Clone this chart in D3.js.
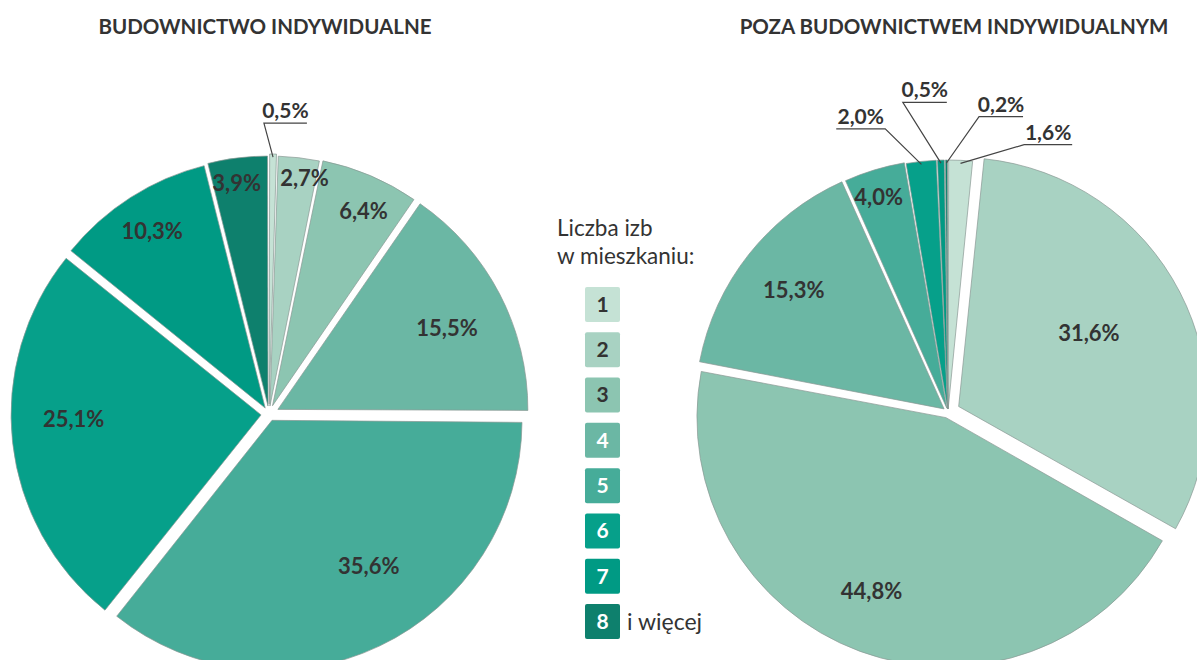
<!DOCTYPE html>
<html lang="pl">
<head>
<meta charset="utf-8">
<script src="https://cdn.jsdelivr.net/npm/d3@7"></script>
<style>
  html, body { margin: 0; padding: 0; background: #fff; }
  svg { display: block; font-family: Lato, "Open Sans", sans-serif; }
</style>
</head>
<body>
<svg id="chart"></svg>
<script>
// Liczba izb w mieszkaniu
const rooms = ["1", "2", "3", "4", "5", "6", "7", "8"];
const roomsSuffix = ["", "", "", "", "", "", "", "i więcej"];

// udział (%) mieszkań wg liczby izb
const individual = [0.5, 2.7, 6.4, 15.5, 35.6, 25.1, 10.3, 3.9];
const nonIndividual = [1.6, 31.6, 44.8, 15.3, 4.0, 2.0, 0.5, 0.2];

const titleLeft = "BUDOWNICTWO INDYWIDUALNE";
const titleRight = "POZA BUDOWNICTWEM INDYWIDUALNYM";
const legendTitle = ["Liczba izb", "w mieszkaniu:"];

const COLORS = [
  "#c5e2d5",
  "#a8d2c2",
  "#8cc5b1",
  "#6bb7a4",
  "#46ac99",
  "#06a08a",
  "#009a84",
  "#0e806d",
];
const TEXT = "#333333";

const W = 1197;
const H = 660;

const svg = d3.select("#chart").attr("width", W).attr("height", H);

const fmtPct = (v) => d3.format(".1f")(v).replace(".", ",") + "%";

/**
 * Exploded pie with inside labels and optional callouts for tiny slices.
 */
function renderPie(values, opts) {
  const { cx, cy, r, explode, labelR, labelShift, callouts, title, titleX } =
    opts;

  svg
    .append("text")
    .attr("x", titleX)
    .attr("y", 34)
    .attr("text-anchor", "middle")
    .attr("fill", TEXT)
    .attr("font-size", 20.5)
    .attr("font-weight", 700)
    .text(title);

  const pie = d3.pie().sort(null).value((d) => d);
  const arcs = pie(values);
  const arc = d3.arc().innerRadius(0).outerRadius(r).padAngle(0.004);

  const g = svg.append("g").attr("transform", `translate(${cx},${cy})`);

  const offset = (a, i) => {
    const m = (a.startAngle + a.endAngle) / 2;
    return [Math.sin(m) * explode[i], -Math.cos(m) * explode[i]];
  };

  arcs.forEach((a, i) => {
    const [ox, oy] = offset(a, i);
    g.append("path")
      .attr("d", arc(a))
      .attr("transform", `translate(${ox},${oy})`)
      .attr("fill", COLORS[i])
      .attr("stroke", "#8a9893")
      .attr("stroke-width", 0.7);
  });

  // labels inside slices
  arcs.forEach((a, i) => {
    if (labelR[i] == null) return;
    const [ox, oy] = offset(a, i);
    const m = (a.startAngle + a.endAngle) / 2 + (labelShift[i] * Math.PI) / 180;
    const lr = labelR[i] * r;
    g.append("text")
      .attr("x", ox + Math.sin(m) * lr)
      .attr("y", oy - Math.cos(m) * lr)
      .attr("dy", "0.35em")
      .attr("text-anchor", "middle")
      .attr("fill", TEXT)
      .attr("font-size", 22)
      .attr("font-weight", 700)
      .text(fmtPct(a.data));
  });

  // callouts for tiny slices
  callouts.forEach((c) => {
    const a = arcs[c.i];
    const [ox, oy] = offset(a, c.i);
    const m = (a.startAngle + a.endAngle) / 2;
    const p0 = [ox + Math.sin(m) * (r - 3), oy - Math.cos(m) * (r - 3)];
    const ea = (c.angle * Math.PI) / 180;
    const p1 = [Math.sin(ea) * c.dist, -Math.cos(ea) * c.dist];
    const p2 = [p1[0] + c.dir * c.len, p1[1]];
    g.append("path")
      .attr("d", d3.line()([p0, p1, p2]))
      .attr("fill", "none")
      .attr("stroke", "#444")
      .attr("stroke-width", 1.2);
    g.append("text")
      .attr("x", (p1[0] + p2[0]) / 2)
      .attr("y", p1[1] - 5)
      .attr("text-anchor", "middle")
      .attr("fill", TEXT)
      .attr("font-size", 21)
      .attr("font-weight", 700)
      .text(fmtPct(a.data));
  });
}

renderPie(individual, {
  cx: 269,
  cy: 414,
  r: 250,
  explode: [10, 8, 9, 10, 7, 8, 7, 8],
  labelR: [null, 0.92, 0.86, 0.75, 0.7, 0.75, 0.84, 0.9],
  labelShift: [0, 2, 2, 2, -8, 5, 0, -1],
  callouts: [{ i: 0, dist: 291, angle: -1, dir: 1, len: 43 }],
  title: titleLeft,
  titleX: 265,
});

renderPie(nonIndividual, {
  cx: 948,
  cy: 412,
  r: 249,
  explode: [3, 12, 6, 5, 4, 3, 3, 3],
  labelR: [null, 0.6, 0.76, 0.77, 0.89, null, null, null],
  labelShift: [0, -2, 3, 0, -1, 0, 0, 0],
  callouts: [
    { i: 5, dist: 290, angle: -12.5, dir: -1, len: 49 },
    { i: 6, dist: 313, angle: -8.3, dir: 1, len: 44 },
    { i: 7, dist: 297, angle: 6.0, dir: 1, len: 44 },
    { i: 0, dist: 278, angle: 15.9, dir: 1, len: 48 },
  ],
  title: titleRight,
  titleX: 954,
});

// Legend
const legend = svg.append("g").attr("transform", "translate(557,0)");
legendTitle.forEach((t, k) => {
  legend
    .append("text")
    .attr("x", 0)
    .attr("y", 236 + k * 28)
    .attr("fill", TEXT)
    .attr("font-size", 22.5)
    .text(t);
});

const ly = d3
  .scaleBand()
  .domain(rooms)
  .range([287, 287 + rooms.length * 44])
  .paddingInner(0.227);

rooms.forEach((k, i) => {
  const y = ly(k);
  const s = ly.bandwidth();
  legend
    .append("rect")
    .attr("x", 28)
    .attr("y", y)
    .attr("width", s)
    .attr("height", s)
    .attr("rx", 2)
    .attr("fill", COLORS[i]);
  legend
    .append("text")
    .attr("x", 28 + s / 2)
    .attr("y", y + s / 2)
    .attr("dy", "0.35em")
    .attr("text-anchor", "middle")
    .attr("fill", i < 3 ? TEXT : "#fff")
    .attr("font-size", 21)
    .attr("font-weight", 700)
    .text(k);
  if (roomsSuffix[i]) {
    legend
      .append("text")
      .attr("x", 28 + s + 7)
      .attr("y", y + s / 2)
      .attr("dy", "0.35em")
      .attr("fill", TEXT)
      .attr("font-size", 23)
      .text(roomsSuffix[i]);
  }
});
</script>
</body>
</html>
